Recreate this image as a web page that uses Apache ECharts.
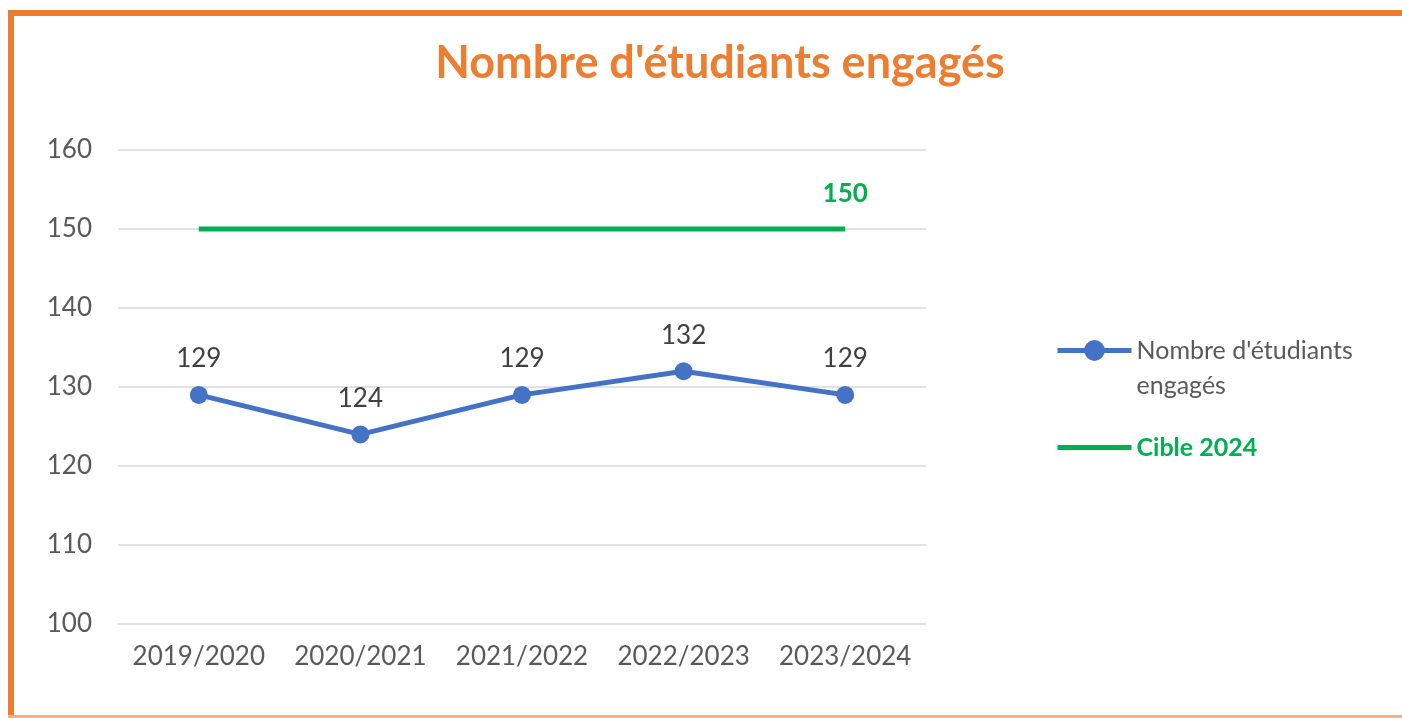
<!DOCTYPE html>
<html>
<head>
<meta charset="utf-8">
<script src="https://cdn.jsdelivr.net/npm/echarts@6/dist/echarts.min.js"></script>
<style>
html,body{margin:0;padding:0;background:#fff;}
#c{width:1402px;height:718px;}
</style>
</head>
<body>
<div id="c"></div>
<script>
const categories = ['2019/2020','2020/2021','2021/2022','2022/2023','2023/2024'];
const engaged = [129,124,129,132,129];
const target = [150,150,150,150,150];
const yTicks = {min:100,max:160,interval:10};
const titleText = "Nombre d'étudiants engagés";
const seriesNames = ["Nombre d'étudiants engagés","Cible 2024"];

const chart = echarts.init(document.getElementById('c'));
const lastIdx = target.length-1;

chart.setOption({
  animation:false,
  title:{text:titleText,left:715,top:36,textAlign:'center',
    textStyle:{fontFamily:'Lato',fontWeight:'bold',fontSize:45,color:'#ED7D31'}},
  grid:{left:118,right:476,top:150,bottom:94},
  graphic:[
    {type:'rect',shape:{x:8,y:10,width:1394,height:6},style:{fill:'#ED7D31'}},
    {type:'rect',shape:{x:8,y:10,width:6,height:708},style:{fill:'#ED7D31'}},
    {type:'rect',shape:{x:8,y:715,width:1394,height:3},style:{fill:'#F4B183'}}
  ],
  legend:{orient:'vertical',left:1050,top:293,itemWidth:74,itemHeight:26,itemGap:32,itemSpacing:8,
    textStyle:{fontFamily:'Lato',fontSize:25,color:'#595959'},
    data:[
      {name:seriesNames[0],lineStyle:{width:5},textStyle:{lineHeight:35}},
      {name:seriesNames[1],lineStyle:{width:5},itemStyle:{opacity:0},textStyle:{color:'#00B050',fontWeight:'bold'}}
    ],
    formatter:function(n){return n===seriesNames[0]?"\nNombre d'étudiants\nengagés":n;}
  },
  xAxis:{type:'category',data:categories,boundaryGap:true,
    axisLine:{show:false},axisTick:{show:false},
    axisLabel:{interval:0,fontFamily:'Lato',fontSize:26,color:'#595959',margin:20}},
  yAxis:{type:'value',min:yTicks.min,max:yTicks.max,interval:yTicks.interval,
    axisLine:{show:false},axisTick:{show:false},
    axisLabel:{fontFamily:'Lato',fontSize:26,color:'#595959',margin:26},
    splitLine:{lineStyle:{color:'#D9D9D9',width:1.5}}},
  series:[
    {name:seriesNames[0],type:'line',data:engaged,symbol:'circle',symbolSize:18,
      lineStyle:{color:'#4472C4',width:5},itemStyle:{color:'#4472C4'},
      label:{show:true,position:'top',distance:14,fontFamily:'Lato',fontSize:26,color:'#404040'}},
    {name:seriesNames[1],type:'line',data:target,symbol:'none',
      lineStyle:{color:'#00B050',width:5},itemStyle:{color:'#00B050'},
      markPoint:{symbol:'circle',symbolSize:0,
        data:[{coord:[lastIdx,target[lastIdx]],value:target[lastIdx]}],
        label:{show:true,position:'top',distance:22,fontFamily:'Lato',fontSize:26,fontWeight:'bold',color:'#00B050'}}}
  ]
});
</script>
</body>
</html>
